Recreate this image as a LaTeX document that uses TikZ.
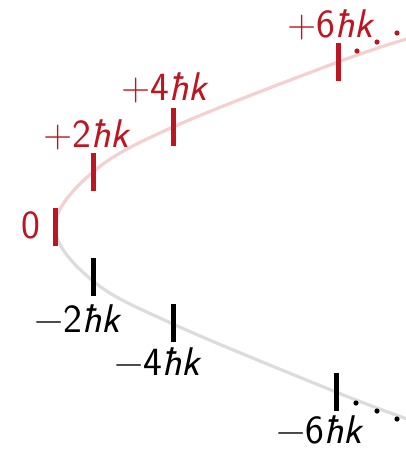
\documentclass[tikz,border=0pt]{standalone}
\definecolor{kred}{RGB}{188,22,34}
\definecolor{kpink}{RGB}{244,208,208}
\definecolor{kgray}{RGB}{220,220,220}
\tikzset{
  mtick/.style={line width=5pt},
  branch/.style={line width=3.2pt, line cap=round},
  lbl/.style={font=\fontsize{40}{44}\selectfont\sffamily, anchor=base, inner sep=0pt},
  dotmark/.style={radius=2.6pt}
}
\begin{document}
\begin{tikzpicture}[x=1pt,y=-1pt]
\useasboundingbox (0,0) rectangle (406,451);
% curve coordinates
\coordinate (v) at (55,227);
\coordinate (u1) at (93,172);
\coordinate (u2) at (173,127);
\coordinate (u3) at (338,62);
\coordinate (ue) at (410,38);
\coordinate (l1) at (93,281);
\coordinate (l2) at (173,324);
\coordinate (l3) at (336,392);
\coordinate (le) at (410,420);
% upper (pink) branch
\begin{scope}
\clip (0,0) rectangle (406,227);
\draw[branch, kpink] plot[smooth, tension=0.6] coordinates {(le) (l3) (l2) (l1) (v) (u1) (u2) (u3) (ue)};
\end{scope}
% lower (gray) branch
\begin{scope}
\clip (0,227) rectangle (406,451);
\draw[branch, kgray] plot[smooth, tension=0.6] coordinates {(le) (l3) (l2) (l1) (v) (u1) (u2) (u3) (ue)};
\end{scope}
% ticks
\draw[mtick, kred] (55,208) -- (55,246);
\draw[mtick, kred] (93,153) -- (93,191);
\draw[mtick, kred] (173,108) -- (173,146);
\draw[mtick, kred] (338,43) -- (338,81);
\draw[mtick, black] (93,258) -- (93,296);
\draw[mtick, black] (173,304) -- (173,342);
\draw[mtick, black] (336,373) -- (336,411);
% dots
\fill[kred] (357,51) circle[dotmark] (377,42) circle[dotmark] (397,33) circle[dotmark];
\fill[black] (356,403) circle[dotmark] (377,411) circle[dotmark] (397,419) circle[dotmark];
% labels
\node[lbl, text=kred] (t0) at (31,238) {0};
\node[lbl, text=kred] (tp2) at (87,147) {+2\textit{ħk}};
\node[lbl, text=kred] (tp4) at (165,100) {+4\textit{ħk}};
\node[lbl, text=kred] (tp6) at (331,37) {+6\textit{ħk}};
\node[lbl] (tm2) at (78,332) {−2\textit{ħk}};
\node[lbl] (tm4) at (158,375) {−4\textit{ħk}};
\node[lbl] (tm6) at (320,443) {−6\textit{ħk}};
\end{tikzpicture}
\end{document}
